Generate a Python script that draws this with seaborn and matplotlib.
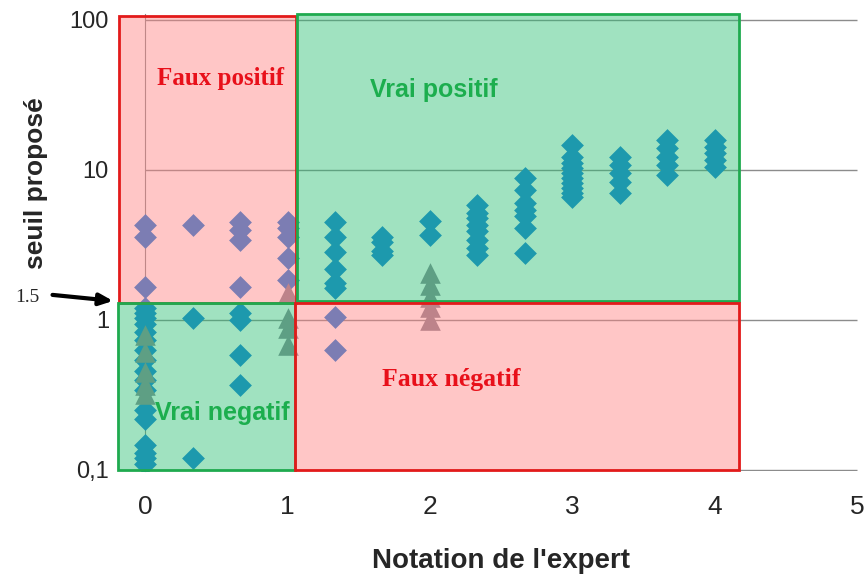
import numpy as np
import pandas as pd
import matplotlib
matplotlib.use("Agg")
import matplotlib.pyplot as plt
from matplotlib.patches import Rectangle
from matplotlib.ticker import FixedLocator, FixedFormatter, LogLocator, NullFormatter
import seaborn as sns

# Expert score columns (diamond series) and proposed thresholds in each column
diamond_scores = [0, 1/3, 2/3, 1, 4/3, 5/3, 2, 7/3, 8/3, 3, 10/3, 11/3, 4]
diamond_thresholds = [
    [4.3, 3.6, 1.66, 1.2, 1.11, 1.03, 0.94, 0.83, 0.74, 0.63, 0.54, 0.46,
     0.40, 0.34, 0.25, 0.22, 0.147, 0.13, 0.12, 0.11],
    [4.3, 1.03, 0.12],
    [4.5, 4.0, 3.4, 1.66, 1.11, 1.0, 0.58, 0.37],
    [4.5, 4.1, 3.6, 2.6, 1.85],
    [4.5, 3.6, 2.85, 2.2, 1.76, 1.63, 1.05, 0.63],
    [3.6, 3.3, 2.9, 2.7],
    [4.6, 3.7],
    [5.8, 5.2, 4.8, 4.3, 3.9, 3.4, 3.0, 2.7],
    [8.8, 7.4, 6.0, 5.4, 4.9, 4.1, 2.8],
    [14.7, 12.2, 11.1, 10.3, 9.5, 8.8, 8.2, 7.6, 7.0, 6.6],
    [12.2, 10.8, 9.5, 8.3, 7.0],
    [15.8, 14.0, 12.2, 10.8, 9.3],
    [15.8, 14.2, 13.0, 11.7, 10.5],
]

# Second series (triangles)
triangle_scores = [0, 1, 2]
triangle_thresholds = [
    [0.79, 0.61, 0.45, 0.37, 0.32],
    [1.51, 1.03, 0.88, 0.68],
    [2.06, 1.71, 1.42, 1.22, 1.0],
]

y_ticks = [0.1, 1, 10, 100]
y_tick_labels = ["0,1", "1", "10", "100"]
x_ticks = [0, 1, 2, 3, 4, 5]

# Classification zones: (label, x0, x1, y0, y1, kind)
zones = [
    ("Faux positif", -0.18, 1.06, 1.3, 106, "false"),
    ("Vrai positif", 1.07, 4.17, 1.33, 109, "true"),
    ("Vrai negatif", -0.19, 1.05, 0.1, 1.3, "true"),
    ("Faux négatif", 1.05, 4.17, 0.1, 1.3, "false"),
]
threshold_label = "1.5"

diamonds = pd.DataFrame(
    [(s, v) for s, vals in zip(diamond_scores, diamond_thresholds) for v in vals],
    columns=["score", "seuil"],
)
triangles = pd.DataFrame(
    [(s, v) for s, vals in zip(triangle_scores, triangle_thresholds) for v in vals],
    columns=["score", "seuil"],
)

sns.set_style("white")
sans = ["Liberation Sans", "DejaVu Sans"]

fig = plt.figure(figsize=(8.66, 5.79), dpi=100)
ax = fig.add_axes([0.1363, 0.186, 0.8568, 0.7902])
ax.set_yscale("log")

ax.hlines(y_ticks, 0, 5, color="#8c8c8c", lw=1.0, zorder=1)

sns.scatterplot(data=diamonds, x="score", y="seuil", marker="D", s=135,
                color="#117adc", linewidth=0, ax=ax, zorder=2)
sns.scatterplot(data=triangles, x="score", y="seuil", marker="^", s=220,
                color="#878592", linewidth=0, ax=ax, zorder=3)

fills = {"false": (1.0, 0.506, 0.506, 0.45), "true": (0.172, 0.749, 0.455, 0.45)}
edges = {"false": "#e21a1a", "true": "#1faa4f"}
for label, x0, x1, y0, y1, kind in zones:
    ax.add_patch(Rectangle((x0, y0), x1 - x0, y1 - y0, facecolor=fills[kind],
                           edgecolor=edges[kind], lw=2.0, zorder=4,
                           clip_on=False))

# Zone captions
ax.text(0.085, 41, "Faux positif", color="#e8101a", fontsize=18,
        fontweight="bold", family="Liberation Serif", va="center", zorder=6)
ax.text(1.580, 34, "Vrai positif", color="#1cae4e", fontsize=18,
        fontweight="bold", family=sans, va="center", zorder=6)
ax.text(1.665, 0.40, "Faux négatif", color="#e8101a", fontsize=18.5,
        fontweight="bold", family="Liberation Serif", va="center", zorder=6)
ax.text(0.07, 0.24, "Vrai negatif", color="#1cae4e", fontsize=18,
        fontweight="bold", family=sans, va="center", zorder=6)

# Threshold arrow
ax.annotate("", xy=(-0.225, 1.34), xytext=(-0.65, 1.47),
            arrowprops=dict(arrowstyle="-|>,head_length=0.8,head_width=0.35",
                            color="black", lw=3.0, shrinkA=0, shrinkB=0),
            annotation_clip=False, zorder=7)
ax.text(-0.83, 1.41, threshold_label, family="Liberation Serif", fontsize=14,
        ha="center", va="center", clip_on=False)

ax.set_xlim(-0.19, 5.02)
ax.set_ylim(0.098, 110)
ax.xaxis.set_major_locator(FixedLocator(x_ticks))
ax.xaxis.set_major_formatter(FixedFormatter([str(t) for t in x_ticks]))
ax.yaxis.set_major_locator(FixedLocator(y_ticks))
ax.yaxis.set_major_formatter(FixedFormatter(y_tick_labels))
ax.yaxis.set_minor_locator(LogLocator(base=10, subs=np.arange(2, 10)))
ax.yaxis.set_minor_formatter(NullFormatter())

for side in ["top", "right", "bottom"]:
    ax.spines[side].set_visible(False)
ax.spines["left"].set_position(("data", 0))
ax.spines["left"].set_color("#8c8c8c")
ax.spines["left"].set_zorder(1)
ax.tick_params(axis="y", which="major", length=4, color="#8c8c8c", pad=22,
               direction="out", labelsize=17)
ax.tick_params(axis="y", which="minor", length=4, color="#8c8c8c")
ax.tick_params(axis="x", length=0, pad=17, labelsize=19)
for lbl in ax.get_xticklabels() + ax.get_yticklabels():
    lbl.set_family(sans)

ax.set_xlabel("Notation de l'expert", family=sans, fontweight="bold",
              fontsize=20)
ax.xaxis.set_label_coords(0.516, -0.168)
ax.set_ylabel("seuil proposé", family=sans, fontweight="bold", fontsize=19)
ax.yaxis.set_label_coords(-0.095, 0.63)

fig.savefig("out.png", dpi=100)
